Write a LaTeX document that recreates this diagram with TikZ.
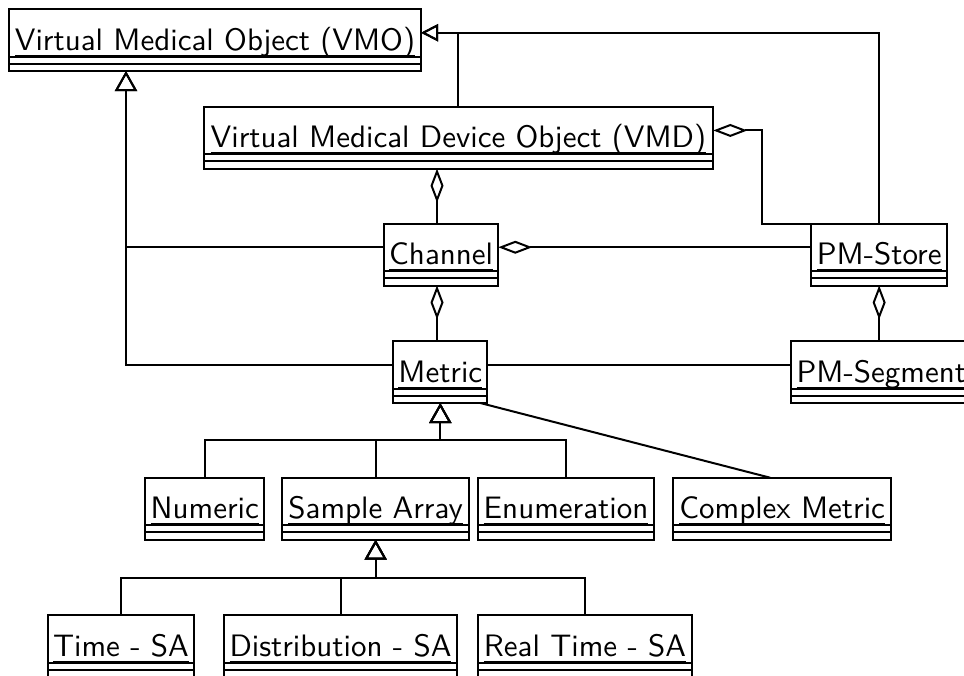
\documentclass[tikz,border=0pt]{standalone}
\usetikzlibrary{arrows.meta,calc}

\tikzset{
  clsbox/.style={draw, line width=1pt, inner sep=0pt, outer sep=0pt,
                 minimum height=31pt, anchor=north west},
  clsname/.style={inner sep=0pt, outer sep=0pt, minimum height=23.75pt,
                  anchor=north west},
  clstext/.style={anchor=base, inner sep=0pt, outer sep=0pt,
                  font=\sffamily\fontsize{10}{12}\selectfont},
  gen/.style={-{Triangle[open,length=10pt,width=11pt]}},
  gensmall/.style={-{Triangle[open,length=8.5pt,width=8.5pt]}},
  agg/.style={{Diamond[open,length=17pt,width=6.5pt]}-},
}

% UML class: id, left, top, right, name (coordinates in pixel units)
\newcommand\classbox[5]{%
  \node[clsbox, minimum width={(#4-#2)*0.5pt}] (#1) at (#2,#3) {};
  \node[clsname, minimum width={(#4-#2)*0.5pt}] (#1-n) at (#2,#3) {};
  \node[clstext] (#1-t) at ([yshift=-20.5pt]#1-n.north) {\scalebox{1.55}{#5}};
  \draw[line width=0.7pt] ([yshift=-2.6pt]#1-t.base west) -- ([yshift=-2.6pt]#1-t.base east);
  \draw (#1-n.south west) -- (#1-n.south east);
  \draw ([yshift=-3.5pt]#1-n.south west) -- ([yshift=-3.5pt]#1-n.south east);
}

\begin{document}
\begin{tikzpicture}[x=0.5pt, y=-0.5pt, line width=1pt, line join=miter]
  \useasboundingbox (0,0) rectangle (964,675);
  \clip (0,0) rectangle (964,675);

  % classes
  \classbox{vmo}{9}{9}{421}{Virtual Medical Object (VMO)}
  \classbox{vmd}{203.5}{106.7}{713.3}{Virtual Medical Device Object (VMD)}
  \classbox{ch}{384}{223.5}{498.3}{Channel}
  \classbox{pms}{811}{223.5}{947.3}{PM-Store}
  \classbox{met}{393.3}{341}{487.3}{Metric}
  \classbox{pmseg}{790.7}{341}{972}{PM-Segment}
  \classbox{num}{145.3}{477.7}{264.3}{Numeric}
  \classbox{sa}{282.3}{477.7}{469}{Sample Array}
  \classbox{enu}{478.3}{477.7}{653.7}{Enumeration}
  \classbox{cm}{673.3}{477.7}{891}{Complex Metric}
  \classbox{tsa}{47.7}{615}{194.3}{Time - SA}
  \classbox{dsa}{223.7}{615}{457.3}{Distribution - SA}
  \classbox{rtsa}{478.3}{615}{691.7}{Real Time - SA}

  % routing helpers
  \coordinate (genL) at (126,0);
  \coordinate (colA) at (437,0);
  \coordinate (j1) at (0,440);
  \coordinate (j2) at (0,577.7);

  % generalisations to VMO
  \draw[gen] (ch-n.west) -| (vmo.south -| genL);
  \draw[gen] (met-n.west) -| (vmo.south -| genL);
  \draw[gensmall] (vmd.north) |- (vmo-n.east);
  \draw[gensmall] (pms.north) |- (vmo-n.east);

  % aggregations
  \draw[agg] (vmd.south -| colA) -- (ch.north -| colA);
  \draw[agg] (ch.south -| colA) -- (met.north -| colA);
  \draw[agg] (vmd-n.east) -- ++(49,0) |- (pms.north west);
  \draw[agg] (ch-n.east) -- (pms-n.west);
  \draw[agg] (pms.south) -- (pmseg.north -| pms.south);

  % associations
  \draw (met-n.east) -- (pmseg-n.west);
  \draw ([xshift=-3.5pt]met.south east) -- ([xshift=-6pt]cm.north);

  % metric specialisations
  \draw[gen] (num.north) |- (met.south |- j1) -- (met.south);
  \draw[gen] (sa.north) |- (met.south |- j1) -- (met.south);
  \draw[gen] (enu.north) |- (met.south |- j1) -- (met.south);

  % sample array specialisations
  \draw[gen] (tsa.north) |- (sa.south |- j2) -- (sa.south);
  \draw[gen] (dsa.north) |- (sa.south |- j2) -- (sa.south);
  \draw[gen] (rtsa.north) |- (sa.south |- j2) -- (sa.south);
\end{tikzpicture}
\end{document}
